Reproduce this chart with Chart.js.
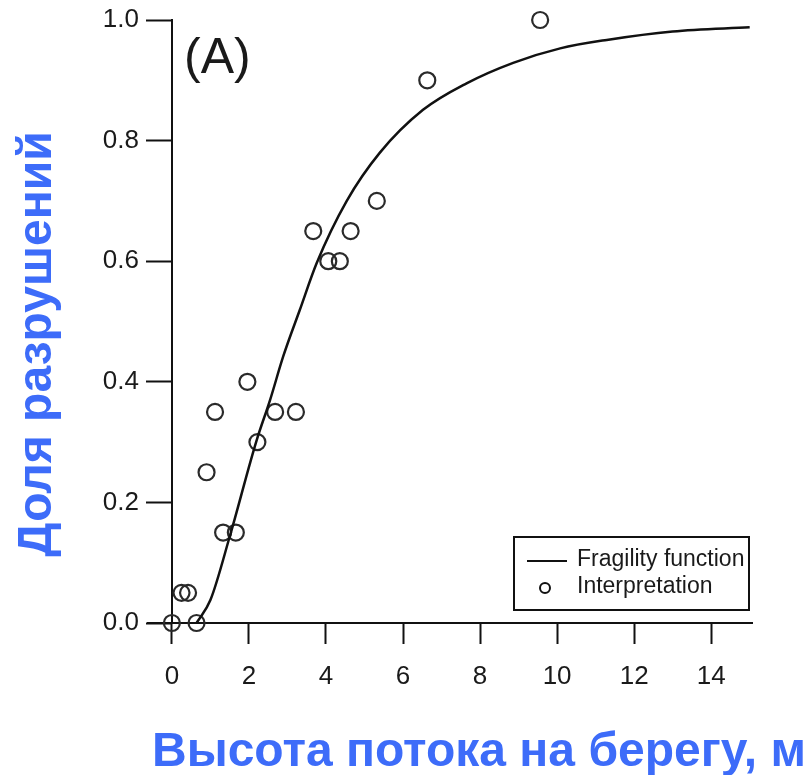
<!DOCTYPE html>
<html>
<head>
<meta charset="utf-8">
<script src="https://cdn.jsdelivr.net/npm/chart.js@4"></script>
<style>
  html, body { margin: 0; padding: 0; background: #fff; }
  #wrap { width: 807px; height: 775px; }
</style>
</head>
<body>
<div id="wrap"><canvas id="chart" width="807" height="775"></canvas></div>
<script>
// Fragility chart

const xTicks = [0, 2, 4, 6, 8, 10, 12, 14];
const yTicks = [0, 0.2, 0.4, 0.6, 0.8, 1.0];

// observed damage ratios ("Interpretation")
const pointX = [0, 0.25, 0.42, 0.64, 0.9, 1.12, 1.33, 1.66, 1.96, 2.22, 2.68, 3.22, 3.67, 4.06, 4.36, 4.64, 5.32, 6.63, 9.56];
const pointY = [0, 0.05, 0.05, 0, 0.25, 0.35, 0.15, 0.15, 0.4, 0.3, 0.35, 0.35, 0.65, 0.6, 0.6, 0.65, 0.7, 0.9, 1.0];

// fitted curve ("Fragility function")
const curveX = [0.64, 1.0, 1.5, 2.2, 2.55, 2.89, 3.32, 3.76, 4.54, 5.4, 6.52, 7.65, 8.86, 10.08, 11.29, 13.0, 15.0];
const curveY = [0, 0.038, 0.143, 0.303, 0.37, 0.442, 0.519, 0.597, 0.70, 0.78, 0.851, 0.895, 0.929, 0.953, 0.967, 0.981, 0.988];

const lineLabel = 'Fragility function';
const pointLabel = 'Interpretation';
const panelLabel = '(A)';
const xTitle = 'Высота потока на берегу, м';
const yTitle = 'Доля разрушений';

const titleBlue = '#3d6cf9';
const ink = '#1a1a1a';
const tickFont = { family: '"Liberation Sans", Arial, sans-serif', size: 26 };

// draws panel label, axis titles and the boxed legend inside the plot
const decorations = {
    id: 'decorations',
    afterDraw(chart) {
        const ctx = chart.ctx;
        ctx.save();

        // panel label
        ctx.fillStyle = ink;
        ctx.font = '50px "Liberation Sans", Arial, sans-serif';
        ctx.textAlign = 'left';
        ctx.textBaseline = 'alphabetic';
        ctx.fillText(panelLabel, 184, 73);

        // axis titles
        ctx.fillStyle = titleBlue;
        ctx.font = 'bold 48px "Liberation Sans", Arial, sans-serif';
        ctx.textAlign = 'center';
        ctx.fillText(xTitle, 479, 766);

        ctx.save();
        ctx.translate(51, 344);
        ctx.rotate(-Math.PI / 2);
        ctx.fillText(yTitle, 0, 0);
        ctx.restore();

        // legend box
        ctx.strokeStyle = '#111';
        ctx.lineWidth = 2;
        ctx.strokeRect(514, 537, 235, 73);

        ctx.beginPath();
        ctx.moveTo(527, 561);
        ctx.lineTo(567, 561);
        ctx.stroke();

        ctx.beginPath();
        ctx.arc(545, 588, 5, 0, Math.PI * 2);
        ctx.stroke();

        ctx.fillStyle = ink;
        ctx.font = '23px "Liberation Sans", Arial, sans-serif';
        ctx.textAlign = 'left';
        ctx.textBaseline = 'middle';
        ctx.fillText(lineLabel, 577, 560);
        ctx.fillText(pointLabel, 577, 587);

        ctx.restore();
    }
};

const noPad = scale => {
    scale.paddingTop = 0;
    scale.paddingBottom = 0;
};

const ctx = document.getElementById('chart').getContext('2d');

new Chart(ctx, {
    type: 'scatter',
    data: {
        datasets: [
            {
                type: 'line',
                label: lineLabel,
                data: curveX.map((x, i) => ({ x: x, y: curveY[i] })),
                borderColor: '#111',
                borderWidth: 2.5,
                pointRadius: 0,
                fill: false,
                cubicInterpolationMode: 'monotone',
                clip: false
            },
            {
                label: pointLabel,
                data: pointX.map((x, i) => ({ x: x, y: pointY[i] })),
                pointRadius: 8,
                pointBorderWidth: 2.2,
                borderColor: '#2a2a2a',
                backgroundColor: 'rgba(0,0,0,0)',
                clip: false
            }
        ]
    },
    options: {
        responsive: false,
        animation: false,
        layout: {
            padding: { left: 0, right: 55, top: 20, bottom: 0 }
        },
        plugins: {
            legend: { display: false },
            tooltip: { enabled: false }
        },
        scales: {
            x: {
                type: 'linear',
                min: -0.62,
                max: 15.06,
                afterBuildTicks: scale => {
                    scale.ticks = xTicks.map(v => ({ value: v }));
                },
                afterFit: scale => {
                    scale.height = 152;
                },
                grid: {
                    drawOnChartArea: false,
                    drawTicks: true,
                    tickLength: 21,
                    tickWidth: 2,
                    tickColor: '#111'
                },
                border: { display: true, color: '#111', width: 2 },
                ticks: {
                    color: ink,
                    padding: 17,
                    maxRotation: 0,
                    font: tickFont
                }
            },
            // axis line and ticks, sitting at x = 0
            y: {
                type: 'linear',
                min: 0,
                max: 1,
                position: { x: 0 },
                afterBuildTicks: scale => {
                    scale.ticks = yTicks.map(v => ({ value: v }));
                },
                afterFit: noPad,
                grid: {
                    drawOnChartArea: false,
                    drawTicks: true,
                    tickLength: 25,
                    tickWidth: 2,
                    tickColor: '#111'
                },
                border: { display: true, color: '#111', width: 2 },
                ticks: { display: false }
            },
            // labels only, at the left of the plot
            yLabels: {
                type: 'linear',
                min: 0,
                max: 1,
                position: 'left',
                afterBuildTicks: scale => {
                    scale.ticks = yTicks.map(v => ({ value: v }));
                },
                afterFit: scale => {
                    scale.width = 148;
                    noPad(scale);
                },
                grid: { display: false, drawTicks: false },
                border: { display: false },
                ticks: {
                    color: ink,
                    padding: 9,
                    callback: v => v.toFixed(1),
                    font: tickFont
                }
            }
        }
    },
    plugins: [decorations]
});
</script>
</body>
</html>
